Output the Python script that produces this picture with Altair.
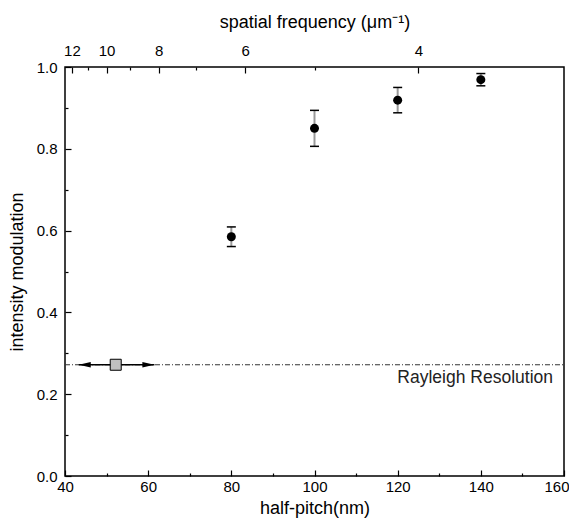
import altair as alt
import pandas as pd

# ---------------- data ----------------
half_pitch = [80, 100, 120, 140]
modulation = [0.585, 0.850, 0.919, 0.969]
mod_error = [0.024, 0.044, 0.031, 0.015]

rayleigh_pitch = [52.2]
rayleigh_mod = [0.272]
arrow_from = [43.3]
arrow_to = [61.5]
rayleigh_line_from = [40]
rayleigh_line_to = [160]
rayleigh_label = ["Rayleigh Resolution"]

x_major = [40, 60, 80, 100, 120, 140]
x_last = [160]
x_minor = [50, 70, 90, 110, 130, 150]
y_major = [0.0, 0.2, 0.4, 0.6, 0.8, 1.0]
y_minor = [0.1, 0.3, 0.5, 0.7, 0.9]
freq_major = [12, 10, 8, 6, 4]
freq_minor = [11, 9, 7, 5]

# spatial frequency f (1/um) -> half-pitch (nm) = 500 / f
top_major_pos = [500.0 / f for f in freq_major]
top_minor_pos = [500.0 / f for f in freq_minor]

FONT = "Liberation Sans"
LBL = 15
TTL = 18
xs = alt.Scale(domain=[40, 160], nice=False, zero=False)
ys = alt.Scale(domain=[0, 1], nice=False, zero=False)


def minor_axis(orient, values):
    return alt.Axis(orient=orient, values=values, offset=-3, tickSize=3,
                    tickColor="black", tickWidth=1.2, domain=False, grid=False,
                    labels=False, title=None)


bottom_major = alt.Axis(orient="bottom", values=x_major, offset=-6, tickSize=6,
                        tickColor="black", tickWidth=1.2, domain=False, grid=False,
                        labelFont=FONT, labelFontSize=LBL, labelColor="#000",
                        labelPadding=3, labelFlush=False, labelOverlap=False, format="d",
                        title="half-pitch(nm)", titleFont=FONT, titleFontSize=TTL,
                        titleFontWeight="normal", titleColor="#000", titlePadding=5)
bottom_last = alt.Axis(orient="bottom", values=x_last, offset=-6, tickSize=6,
                       tickColor="black", tickWidth=1.2, domain=False, grid=False,
                       labelFont=FONT, labelFontSize=LBL, labelColor="#000",
                       labelPadding=3, labelFlush=True, labelFlushOffset=5,
                       labelOverlap=False, format="d", title=None)
left_major = alt.Axis(orient="left", values=y_major, offset=-6, tickSize=6,
                      tickColor="black", tickWidth=1.2, domain=False, grid=False,
                      labelFont=FONT, labelFontSize=LBL, labelColor="#000",
                      labelPadding=8, labelFlush=False, labelOverlap=False, format=".1f",
                      title="intensity modulation", titleFont=FONT, titleFontSize=TTL,
                      titleFontWeight="normal", titleColor="#000", titlePadding=10)
top_major = alt.Axis(orient="top", values=top_major_pos, offset=-6, tickSize=6,
                     tickColor="black", tickWidth=1.2, domain=False, grid=False,
                     labelFont=FONT, labelFontSize=LBL, labelColor="#000",
                     labelPadding=9, labelFlush=False, labelOverlap=False,
                     labelExpr="format(500 / datum.value, '.0f')",
                     title="spatial frequency (\u03bcm\u207b\u00b9)", titleFont=FONT,
                     titleFontSize=TTL, titleFontWeight="normal", titleColor="#000",
                     titlePadding=12)

pts = pd.DataFrame({"hp": half_pitch, "m": modulation, "err": mod_error})
ray = pd.DataFrame({
    "hp": rayleigh_pitch, "y": rayleigh_mod,
    "a1": arrow_from, "a2": arrow_to,
    "l1": rayleigh_line_from, "l2": rayleigh_line_to,
    "label": rayleigh_label,
})

rayleigh_line = alt.Chart(ray).mark_rule(color="#333", strokeWidth=1,
                                         strokeDash=[5, 2, 1, 2]).encode(
    x=alt.X("l1:Q", scale=xs, axis=None), x2="l2:Q",
    y=alt.Y("y:Q", scale=ys, axis=None))

arrow_line = alt.Chart(ray).mark_rule(color="black", strokeWidth=1.5).encode(
    x=alt.X("a1:Q", scale=xs, axis=None), x2="a2:Q",
    y=alt.Y("y:Q", scale=ys, axis=None))

head_left = alt.Chart(ray).mark_point(shape="M0,0L2,-0.45L2,0.45Z", size=144,
                                      filled=True, color="black", opacity=1).encode(
    x=alt.X("a1:Q", scale=xs, axis=None), y=alt.Y("y:Q", scale=ys, axis=None))

head_right = alt.Chart(ray).mark_point(shape="M0,0L-2,-0.45L-2,0.45Z", size=144,
                                       filled=True, color="black", opacity=1).encode(
    x=alt.X("a2:Q", scale=xs, axis=None), y=alt.Y("y:Q", scale=ys, axis=None))

square = alt.Chart(ray).mark_square(size=121, fill="#c0c0c0", stroke="black",
                                    strokeWidth=1, opacity=1).encode(
    x=alt.X("hp:Q", scale=xs, axis=None), y=alt.Y("y:Q", scale=ys, axis=None))

label = alt.Chart(ray).mark_text(align="right", baseline="top", dx=-11, dy=4,
                                 font=FONT, fontSize=17.5, color="#222").encode(
    x=alt.X("l2:Q", scale=xs, axis=None), y=alt.Y("y:Q", scale=ys, axis=None),
    text="label:N")

errbar = alt.Chart(pts).transform_calculate(
    lo="datum.m - datum.err", hi="datum.m + datum.err"
).mark_rule(color="#9a9a9a", strokeWidth=2).encode(
    x=alt.X("hp:Q", scale=xs, axis=minor_axis("bottom", x_minor)),
    y=alt.Y("lo:Q", scale=ys, axis=minor_axis("left", y_minor)),
    y2="hi:Q")

caps = alt.Chart(pts).transform_calculate(
    lo="datum.m - datum.err", hi="datum.m + datum.err"
).transform_fold(["lo", "hi"], as_=["end", "val"]).mark_point(
    shape="M-1,0L1,0", size=81, stroke="black", strokeWidth=1.5, opacity=1
).encode(x=alt.X("hp:Q", scale=xs, axis=None),
         y=alt.Y("val:Q", scale=ys, axis=None))

points = alt.Chart(pts).mark_circle(size=81, color="black", opacity=1).encode(
    x=alt.X("hp:Q", scale=xs, axis=bottom_major),
    y=alt.Y("m:Q", scale=ys, axis=left_major))

last_layer = alt.Chart(pd.DataFrame({"v": x_last})).mark_point(
    opacity=0).encode(x=alt.X("v:Q", scale=xs, axis=bottom_last))
top_major_layer = alt.Chart(pd.DataFrame({"v": top_major_pos})).mark_point(
    opacity=0).encode(x=alt.X("v:Q", scale=xs, axis=top_major))
top_minor_layer = alt.Chart(pd.DataFrame({"v": top_minor_pos})).mark_point(
    opacity=0).encode(x=alt.X("v:Q", scale=xs, axis=minor_axis("top", top_minor_pos)))

chart = alt.layer(
    rayleigh_line, arrow_line, head_left, head_right, square, label,
    errbar, caps, points, last_layer, top_major_layer, top_minor_layer
).resolve_axis(x="independent", y="independent").properties(
    width=499, height=409,
    autosize=alt.AutoSizeParams(type="none"),
    padding={"left": 57, "top": 59, "right": 5, "bottom": 44},
).configure_view(stroke="black", strokeWidth=1.5)

chart.save("out.html", embed_options={"renderer": "svg", "actions": False})
